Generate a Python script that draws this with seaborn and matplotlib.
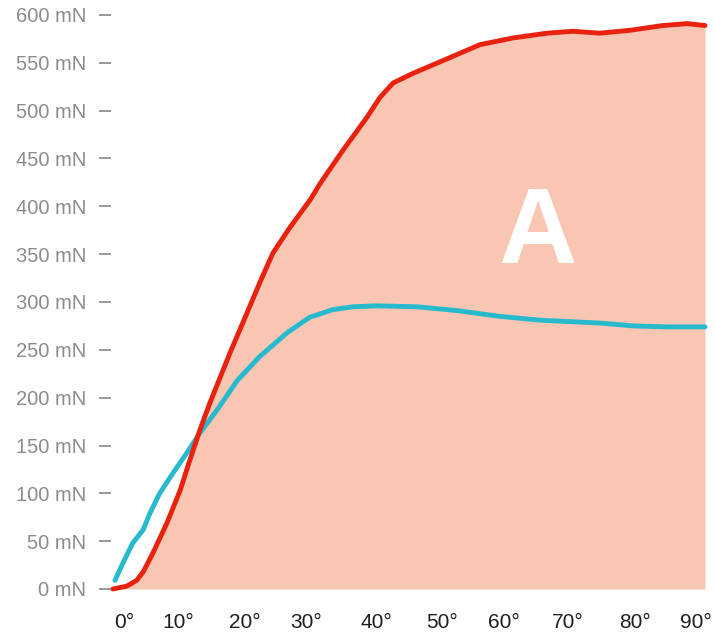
import matplotlib
matplotlib.use("Agg")
import matplotlib.pyplot as plt
import seaborn as sns
import pandas as pd

# angle (deg) / force (mN)
red_deg = [0.0, 2.1, 3.6, 4.6, 6.1, 8.2, 10.2, 11.7, 13.2, 14.7, 17.8, 20.4, 22.3,
           24.3, 26.9, 30.0, 31.5, 35.0, 38.6, 40.6, 42.6, 45.6, 49.7, 55.8, 60.8,
           66.0, 69.9, 74.0, 78.6, 83.6, 87.3, 90.0]
red_mn = [0, 3, 9, 18, 38, 69, 103, 135, 166, 194, 247, 289, 320,
          351, 378, 407, 424, 459, 493, 514, 529, 539, 551, 569, 576,
          581, 583, 581, 584, 589, 591, 589]

cyan_deg = [0.3, 1.5, 3.0, 4.6, 5.6, 7.1, 9.1, 11.2, 13.2, 15.8, 18.9, 22.3, 26.5,
            29.9, 33.4, 36.5, 40.1, 46.2, 52.3, 58.8, 64.9, 74.0, 79.1, 84.2, 90.0]
cyan_mn = [9, 27, 48, 62, 79, 100, 121, 142, 163, 187, 218, 243, 268,
           284, 292, 295, 296, 295, 291, 285, 281, 278, 275, 274, 274]

y_ticks = [0, 50, 100, 150, 200, 250, 300, 350, 400, 450, 500, 550, 600]
y_labels = [f"{v} mN" for v in y_ticks]
x_labels = ["0°", "10°", "20°", "30°", "40°", "50°", "60°", "70°", "80°", "90°"]
x_label_pos = [1.7, 9.9, 20.1, 29.3, 40.0, 50.0, 59.4, 69.2, 79.4, 88.6]
panel_label = "A"

RED = "#e8220e"
CYAN = "#27b9cd"
FILL = "#f8c6b2"

sns.set_style("white")
plt.rcParams["font.family"] = ["Liberation Sans", "DejaVu Sans"]

df_red = pd.DataFrame({"deg": red_deg, "mN": red_mn})
df_cyan = pd.DataFrame({"deg": cyan_deg, "mN": cyan_mn})

W, H = 715, 636
fig = plt.figure(figsize=(W / 100, H / 100), dpi=100)
left_px, right_px = 111, 706
bottom_px, top_px = 589, 15
ax = fig.add_axes([left_px / W, 1 - bottom_px / H,
                   (right_px - left_px) / W, (bottom_px - top_px) / H])

ax.fill_between(df_red["deg"], df_red["mN"], 0, color=FILL, lw=0, zorder=1)
sns.lineplot(data=df_cyan, x="deg", y="mN", ax=ax, color=CYAN, lw=3.5,
             solid_capstyle="round", solid_joinstyle="round", clip_on=False, zorder=3)
sns.lineplot(data=df_red, x="deg", y="mN", ax=ax, color=RED, lw=3.5,
             solid_capstyle="round", solid_joinstyle="round", clip_on=False, zorder=4)

ax.text(64.5, 341, panel_label, color="white", fontsize=78, fontweight="bold",
        ha="center", va="baseline", zorder=5)

px_per_deg = (705 - 113) / 90
ax.set_xlim(-(113 - left_px) / px_per_deg, 90 + (right_px - 705) / px_per_deg)
ax.set_ylim(0, 600)

ax.set_yticks(y_ticks)
ax.set_yticklabels(y_labels)
ax.set_xticks(x_label_pos)
ax.set_xticklabels(x_labels)
ax.tick_params(axis="y", length=8.5, width=1.4, color="#9a9a9a", pad=9.5,
               labelsize=14.5, labelcolor="#8c8c8c", left=True)
ax.tick_params(axis="x", length=0, pad=17, labelsize=15, labelcolor="#1e1e1e")
ax.set_xlabel("")
ax.set_ylabel("")
for s in ax.spines.values():
    s.set_visible(False)

fig.savefig("out.png", dpi=100)
